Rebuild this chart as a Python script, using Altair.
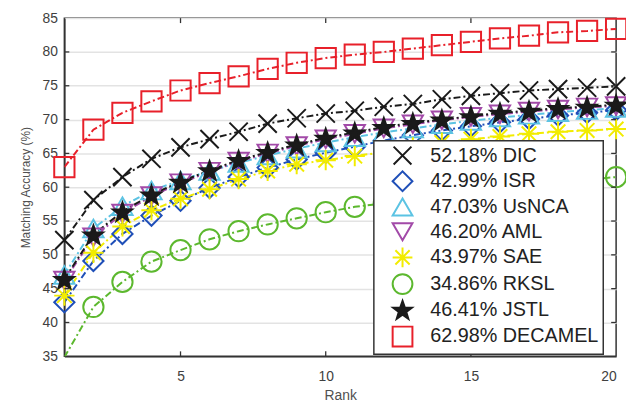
import math
import altair as alt
import pandas as pd

ranks = list(range(1, 21))
series_names = ["52.18% DIC", "42.99% ISR", "47.03% UsNCA", "46.20% AML",
                "43.97% SAE", "34.86% RKSL", "46.41% JSTL", "62.98% DECAMEL"]

dic = [52.18, 58.1, 61.5, 64.2, 65.9, 67.1, 68.2, 69.4, 70.2, 70.9,
       71.3, 71.9, 72.3, 73.0, 73.5, 73.9, 74.3, 74.5, 74.7, 74.9]
isr = [42.99, 49.1, 53.1, 55.8, 58.0, 59.9, 61.5, 62.9, 64.1, 65.1,
       66.0, 66.9, 67.7, 68.4, 69.0, 69.6, 70.1, 70.6, 71.0, 71.4]
usnca = [47.03, 53.9, 57.2, 59.5, 61.0, 62.4, 63.6, 64.7, 65.7, 66.6,
         67.4, 68.1, 68.7, 69.3, 69.8, 70.3, 70.7, 71.1, 71.4, 71.7]
aml = [46.20, 52.6, 56.1, 58.7, 60.6, 62.3, 63.8, 65.0, 66.1, 67.1,
       67.9, 68.7, 69.3, 69.9, 70.4, 70.8, 71.2, 71.5, 71.8, 72.0]
sae = [43.97, 50.3, 54.2, 56.6, 58.3, 59.7, 61.2, 62.4, 63.4, 64.0,
       64.6, 65.2, 65.9, 66.6, 67.1, 67.5, 67.9, 68.2, 68.4, 68.6]
rksl = [34.86, 42.3, 46.0, 49.0, 50.7, 52.3, 53.5, 54.5, 55.4, 56.3,
        57.1, 57.6, 58.2, 58.8, 59.3, 59.8, 60.3, 60.7, 61.1, 61.5]
jstl = [46.41, 53.0, 56.4, 58.9, 60.8, 62.5, 64.0, 65.2, 66.3, 67.3,
        68.1, 68.9, 69.5, 70.0, 70.5, 71.0, 71.3, 71.7, 71.9, 72.2]
decamel = [62.98, 68.5, 71.0, 72.7, 74.3, 75.4, 76.4, 77.5, 78.4, 79.1,
           79.6, 80.0, 80.5, 81.0, 81.5, 82.0, 82.4, 82.9, 83.1, 83.4]

x_ticks = [5, 10, 15]
y_ticks = [40, 45, 50, 55, 60, 65, 70, 75, 80]
x_labels = [5, 10, 15, 20]
y_labels = [35, 40, 45, 50, 55, 60, 65, 70, 75, 80, 85]

all_values = [dic, isr, usnca, aml, sae, rksl, jstl, decamel]
colors = ["#1a1a1a", "#1f4fb8", "#5bc3e3", "#a24aa8",
          "#f2ec00", "#5cb82e", "#1a1a1a", "#e8202a"]

# star path (pentagram)
pts = []
for i in range(10):
    r = 1.0 if i % 2 == 0 else 0.40
    a = -math.pi / 2 + i * math.pi / 5
    pts.append((r * math.cos(a), r * math.sin(a) + 0.1))
star = "M" + "L".join(f"{x:.3f},{y:.3f}" for x, y in pts) + "Z"
xmark = "M-0.9,-0.9L0.9,0.9M-0.9,0.9L0.9,-0.9"
aster = "M-1,0L1,0M0,-1L0,1M-0.72,-0.72L0.72,0.72M-0.72,0.72L0.72,-0.72"
shapes = [xmark, "diamond", "triangle-up", "triangle-down", aster, "circle", star, "square"]
fills = ["transparent"] * 6 + ["#1a1a1a", "transparent"]

rows = []
for name, vals in zip(series_names, all_values):
    for r, v in zip(ranks, vals):
        rows.append({"series": name, "rank": r, "value": v})
df = pd.DataFrame(rows)

W, H = 558, 342
xs = alt.Scale(domain=[1, 20], nice=False, zero=False)
ys = alt.Scale(domain=[35, 85], nice=False, zero=False)
cscale = alt.Scale(domain=series_names, range=colors)

xaxis = alt.Axis(values=x_labels, title="Rank", grid=False, ticks=False,
                 labelPadding=13, titlePadding=6)
yaxis = alt.Axis(values=y_labels, title="Matching Accuracy (%)", ticks=False,
                 labelPadding=7, titlePadding=10)
legend = alt.Legend(title=None, orient="none", legendX=313, legendY=124)

base = alt.Chart(df)
lines = base.mark_line(strokeWidth=2, strokeDash=[7, 3, 2, 3], clip=True).encode(
    x=alt.X("rank:Q", scale=xs, axis=xaxis, title="Rank"),
    y=alt.Y("value:Q", scale=ys, axis=yaxis, title="Matching Accuracy (%)"),
    color=alt.Color("series:N", scale=cscale, legend=legend),
    detail="series:N",
)
points = base.transform_filter(alt.datum.value >= 35).mark_point(
    filled=False, size=420, strokeWidth=2, opacity=1
).encode(
    x=alt.X("rank:Q", scale=xs, axis=xaxis, title="Rank"),
    y=alt.Y("value:Q", scale=ys, axis=yaxis, title="Matching Accuracy (%)"),
    color=alt.Color("series:N", scale=cscale, legend=legend),
    shape=alt.Shape("series:N", scale=alt.Scale(domain=series_names, range=shapes), legend=legend),
    fill=alt.Fill("series:N", scale=alt.Scale(domain=series_names, range=fills), legend=legend),
)

xt = pd.DataFrame({"xt": x_ticks})
yt = pd.DataFrame({"yt": y_ticks})
tick_col = "#333333"
bt = alt.Chart(xt).mark_rule(color=tick_col, strokeWidth=1.3).encode(
    x=alt.X("xt:Q", scale=xs, axis=xaxis, title="Rank"), y=alt.value(H), y2=alt.value(H - 5))
tt = alt.Chart(xt).mark_rule(color=tick_col, strokeWidth=1.3).encode(
    x=alt.X("xt:Q", scale=xs, axis=xaxis, title="Rank"), y=alt.value(0), y2=alt.value(5))
lt = alt.Chart(yt).mark_rule(color=tick_col, strokeWidth=1.3).encode(
    y=alt.Y("yt:Q", scale=ys, axis=yaxis, title="Matching Accuracy (%)"), x=alt.value(0), x2=alt.value(5))
rt = alt.Chart(yt).mark_rule(color=tick_col, strokeWidth=1.3).encode(
    y=alt.Y("yt:Q", scale=ys, axis=yaxis, title="Matching Accuracy (%)"), x=alt.value(W), x2=alt.value(W - 5))

chart = alt.layer(lines, points, bt, tt, lt, rt).properties(
    width=W, height=H,
    autosize=alt.AutoSizeParams(type="none"),
    padding={"left": 57, "top": 8, "right": 10, "bottom": 46},
).configure(
    font="Liberation Sans",
).configure_view(
    stroke="#333333", strokeWidth=1.5,
).configure_axis(
    domainColor="#333333", domainWidth=1.5,
    gridColor="#e3e3e3", gridWidth=1.5,
    labelColor="#404040", labelFontSize=14,
    titleColor="#505050", titleFontWeight="normal",
).configure_axisX(
    titleFontSize=14,
).configure_axisY(
    titleFontSize=12,
).configure_legend(
    fillColor="white", strokeColor="#333333", strokeWidth=1.5,
    padding=4, rowPadding=-1, labelFontSize=20, labelColor="#222222",
    labelLimit=400, symbolSize=400, symbolStrokeWidth=2, symbolOffset=14,
    labelOffset=17,
)

chart.save("out.html", embed_options={"renderer": "svg", "actions": False})
